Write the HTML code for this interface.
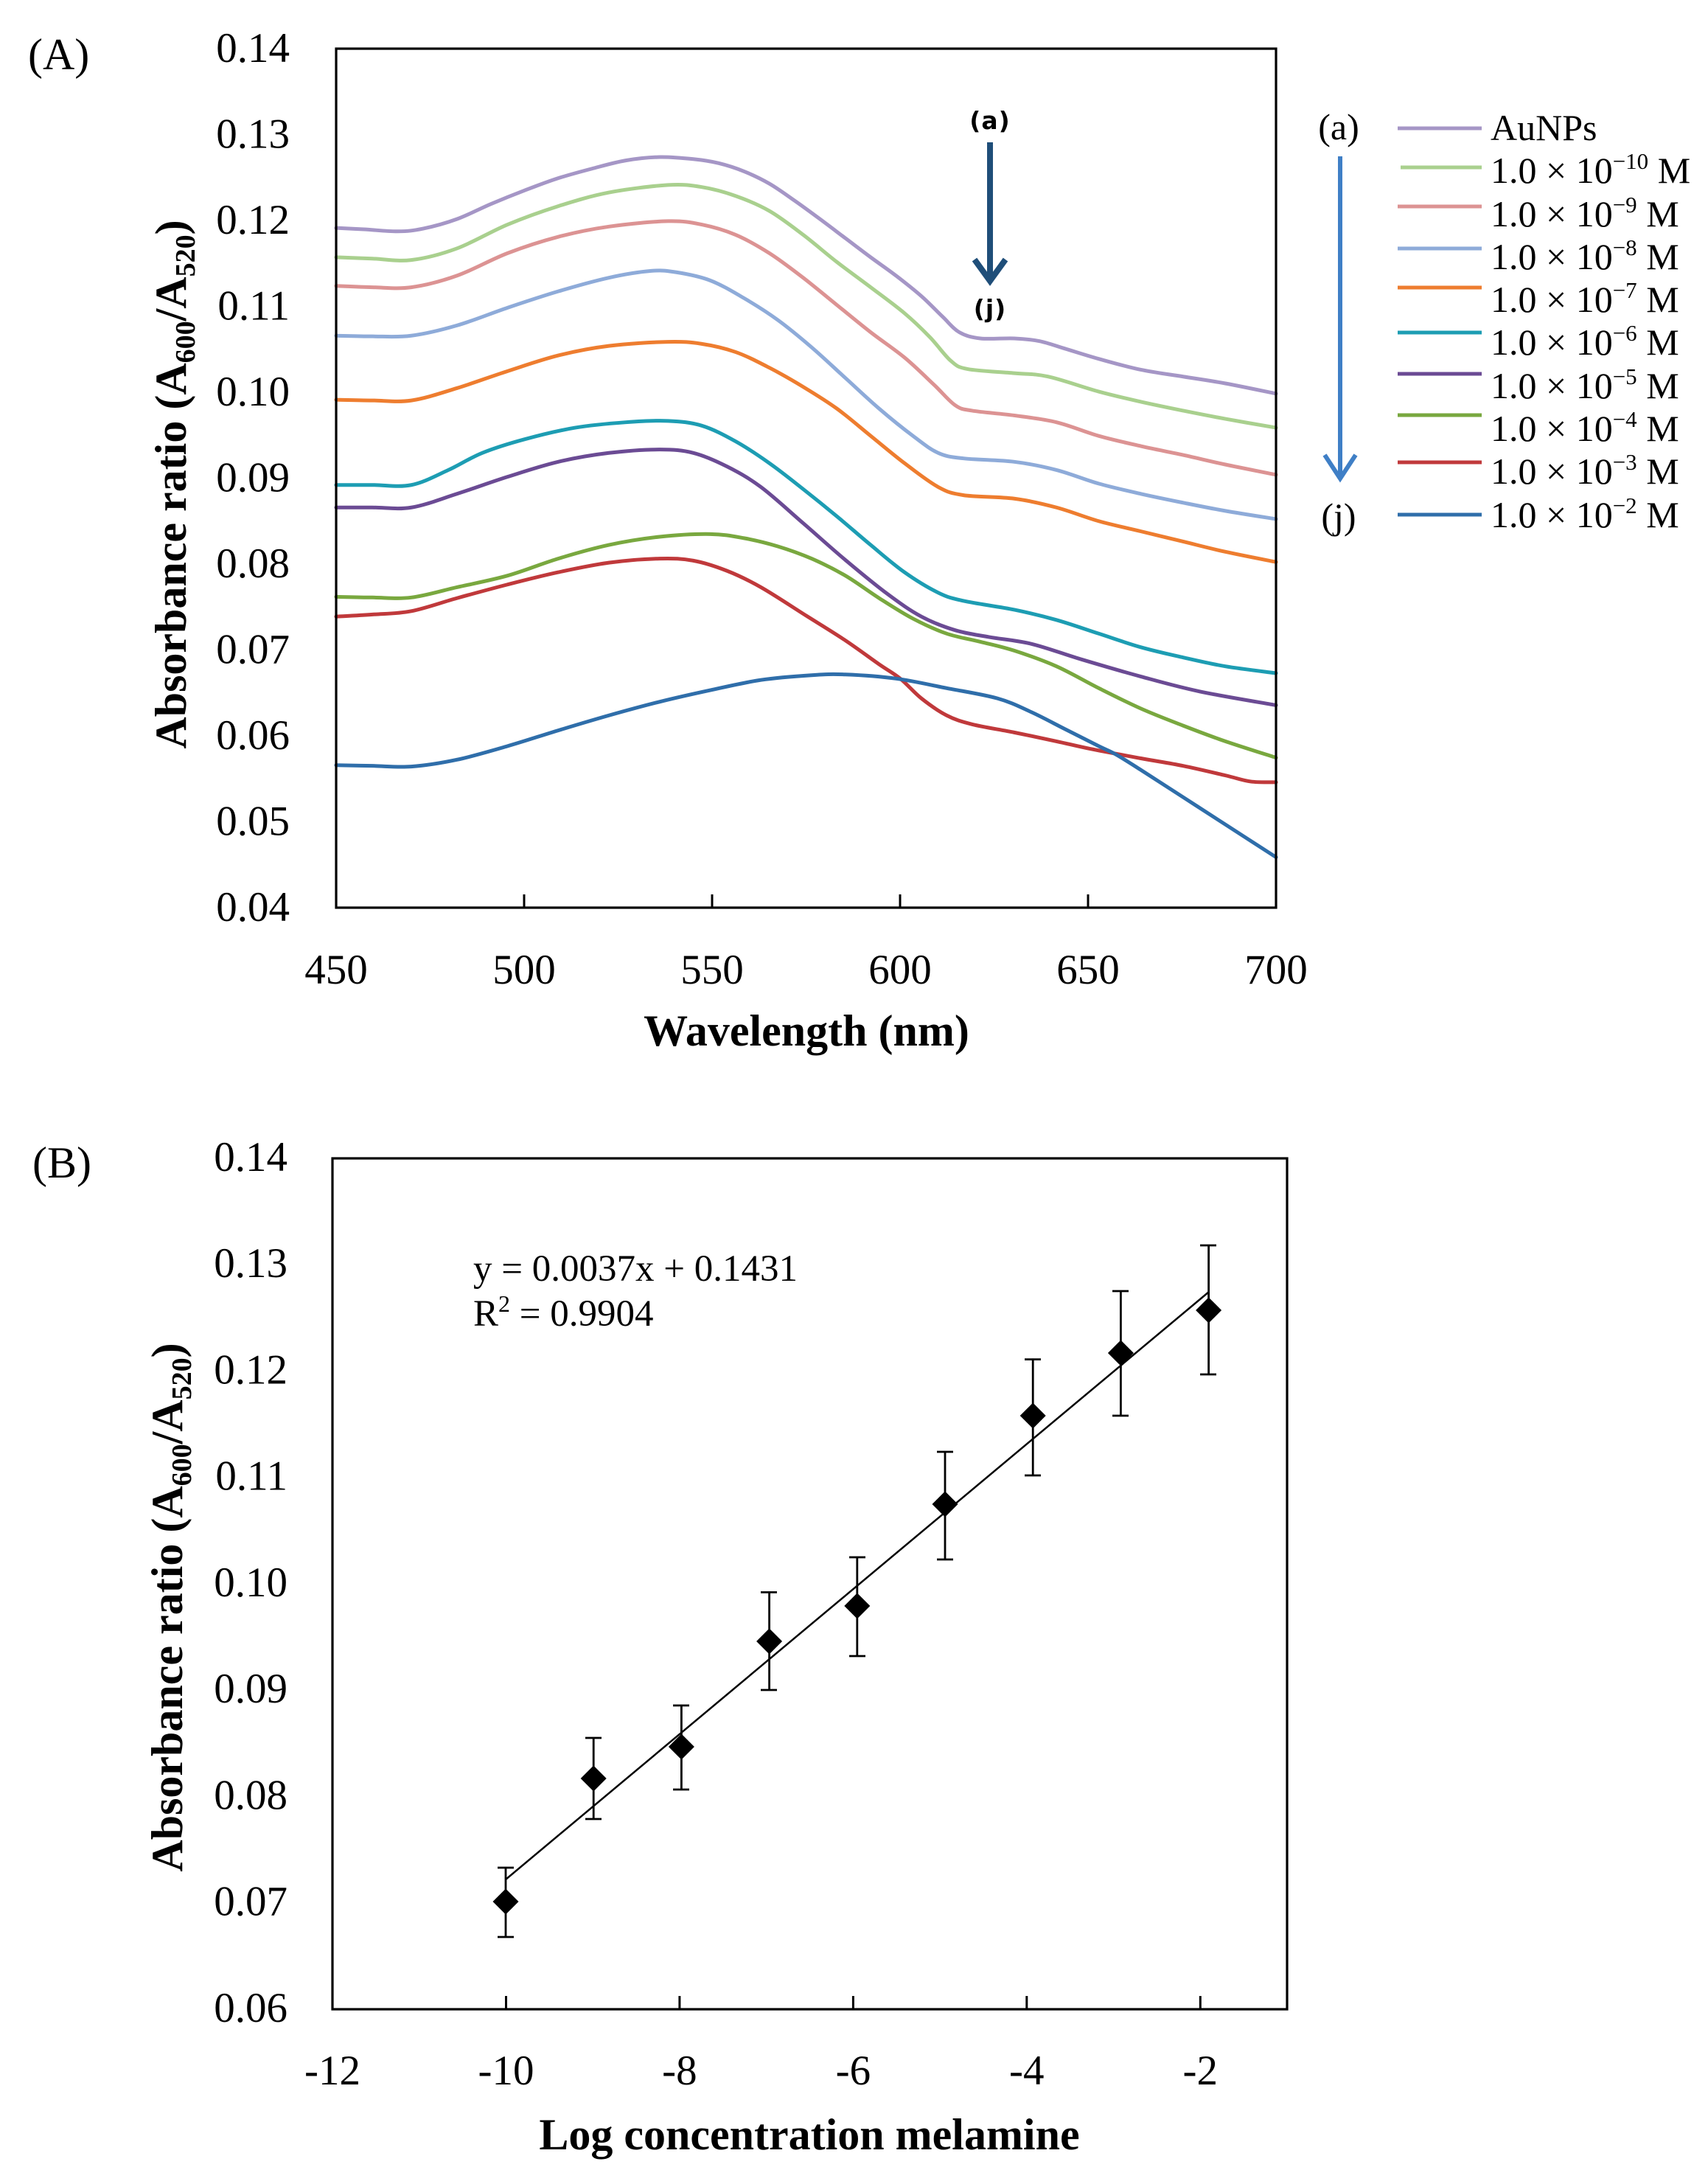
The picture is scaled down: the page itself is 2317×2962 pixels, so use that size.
<!DOCTYPE html>
<html>
<head>
<meta charset="utf-8">
<style>
  html,body{margin:0;padding:0;background:#fff;}
  svg{display:block;}
  text{font-family:"Liberation Serif","DejaVu Serif",serif;fill:#000;}
  .curves polyline,.curves path{fill:none;stroke-width:5;stroke-linejoin:round;stroke-linecap:round;vector-effect:non-scaling-stroke;}
  .tk{font-size:57px;}
  .ttl{font-size:60px;font-weight:bold;}
  .lg{font-size:50px;}
</style>
</head>
<body>
<svg id="chart" width="2317" height="2962" viewBox="0 0 2317 2962" xmlns="http://www.w3.org/2000/svg">
  <rect x="0" y="0" width="2317" height="2962" fill="#fff"/>

  <!-- ================= PANEL A ================= -->
  <text x="38" y="94" style="font-size:60px">(A)</text>

  <!-- curves -->
  <g class="curves" transform="translate(1.22,-0.57) scale(1.14555,0.9246)">
    <polyline class="c" stroke="#a596c6" points="397,335 430,337 470,340 500,336 540,322 580,300 620,280 660,262 700,248 740,236 780,231 820,234 850,240 880,252 910,270 940,295 970,322 1000,350 1030,378 1060,405 1090,435 1115,465 1135,488 1160,497 1200,497 1230,501 1260,512 1300,527 1350,543 1400,553 1450,563 1510,578"/>
    <polyline class="c" stroke="#a9d08e" points="397,378 440,380 486,382 540,365 600,330 660,303 720,283 790,272 830,275 870,288 910,310 950,345 990,385 1030,422 1070,460 1100,495 1125,530 1145,542 1200,548 1240,553 1300,575 1350,590 1400,603 1450,615 1510,628"/>
    <polyline class="c" stroke="#dc9393" points="397,420 440,422 486,422 540,405 600,372 660,348 720,333 790,325 830,330 870,345 910,372 950,408 990,448 1030,488 1070,525 1105,565 1130,595 1150,603 1200,610 1250,620 1300,640 1350,655 1400,668 1450,682 1510,697"/>
    <polyline class="c" stroke="#8eabd9" points="397,493 440,494 486,493 540,478 600,452 660,428 720,408 770,398 800,400 840,412 880,438 920,470 960,510 1000,555 1040,600 1080,640 1110,665 1140,673 1200,678 1250,690 1300,710 1350,725 1400,738 1450,750 1510,762"/>
    <polyline class="c" stroke="#ee7d2f" points="397,587 440,588 486,588 540,570 600,545 660,522 720,508 790,502 830,505 870,517 910,540 950,568 990,600 1030,640 1070,680 1110,715 1140,727 1200,732 1250,745 1300,765 1350,780 1400,795 1450,810 1510,825"/>
    <polyline class="c" stroke="#1d9db3" points="397,712 440,712 486,712 530,690 570,665 620,645 680,628 740,620 790,618 830,625 870,648 910,680 950,718 990,758 1030,800 1070,840 1110,870 1140,882 1200,895 1250,910 1300,930 1350,950 1400,965 1450,978 1510,988"/>
    <polyline class="c" stroke="#6b4b94" points="397,745 440,745 486,745 540,725 600,700 660,678 720,665 780,660 820,665 860,685 900,715 950,768 1000,822 1050,872 1090,905 1130,925 1170,935 1220,945 1280,968 1350,993 1420,1015 1510,1035"/>
    <polyline class="c" stroke="#79a83f" points="397,876 440,877 486,877 540,862 600,845 660,820 720,800 780,788 840,784 880,790 920,802 960,820 1000,845 1040,878 1080,908 1120,930 1160,942 1200,955 1250,978 1300,1010 1350,1040 1400,1065 1450,1088 1510,1112"/>
    <polyline class="c" stroke="#c0393b" points="397,905 440,902 486,897 540,878 600,858 660,840 720,826 780,820 820,823 860,838 900,862 954,904 1000,940 1040,975 1065,996 1090,1025 1120,1050 1150,1063 1200,1075 1250,1088 1290,1099 1350,1113 1400,1124 1450,1138 1480,1147 1510,1148"/>
    <polyline class="c" stroke="#2f6eaa" points="397,1123 440,1124 486,1125 540,1115 600,1095 660,1072 720,1050 780,1030 840,1013 900,998 960,991 1000,990 1060,996 1120,1010 1180,1025 1220,1045 1260,1070 1300,1095 1320,1107 1350,1130 1400,1170 1450,1210 1510,1258"/>
  </g>

  <!-- frame A -->
  <rect x="456" y="66" width="1275" height="1165" fill="none" stroke="#000" stroke-width="3.2"/>
  <!-- x ticks A -->
  <g stroke="#000" stroke-width="3">
    <line x1="711" y1="1231" x2="711" y2="1213"/>
    <line x1="966" y1="1231" x2="966" y2="1213"/>
    <line x1="1221" y1="1231" x2="1221" y2="1213"/>
    <line x1="1476" y1="1231" x2="1476" y2="1213"/>
  </g>

  <!-- y tick labels A -->
  <g class="tk" text-anchor="end">
    <text x="393" y="84">0.14</text>
    <text x="393" y="200.5">0.13</text>
    <text x="393" y="317">0.12</text>
    <text x="393" y="433.5">0.11</text>
    <text x="393" y="550">0.10</text>
    <text x="393" y="666.5">0.09</text>
    <text x="393" y="783">0.08</text>
    <text x="393" y="899.5">0.07</text>
    <text x="393" y="1016">0.06</text>
    <text x="393" y="1132.5">0.05</text>
    <text x="393" y="1249">0.04</text>
  </g>
  <!-- x tick labels A -->
  <g class="tk" text-anchor="middle">
    <text x="456" y="1334">450</text>
    <text x="711" y="1334">500</text>
    <text x="966" y="1334">550</text>
    <text x="1221" y="1334">600</text>
    <text x="1476" y="1334">650</text>
    <text x="1731" y="1334">700</text>
  </g>
  <text class="ttl" x="1094" y="1418" text-anchor="middle">Wavelength (nm)</text>
  <text class="ttl" transform="translate(252,657) rotate(-90)" text-anchor="middle">Absorbance ratio (A<tspan font-size="38" dy="12">600</tspan><tspan dy="-12">/A</tspan><tspan font-size="38" dy="12">520</tspan><tspan dy="-12">)</tspan></text>

  <!-- in-plot arrow -->
  <text x="1343" y="175" text-anchor="middle" style="font-family:'DejaVu Sans','Liberation Sans',sans-serif;font-weight:bold;font-size:33px;letter-spacing:1px">(a)</text>
  <line x1="1343" y1="193" x2="1343" y2="378" stroke="#1f4e79" stroke-width="8"/>
  <polyline points="1322,352 1343,381 1364,352" fill="none" stroke="#1f4e79" stroke-width="8"/>
  <text x="1343" y="430" text-anchor="middle" style="font-family:'DejaVu Sans','Liberation Sans',sans-serif;font-weight:bold;font-size:33px;letter-spacing:1px">(j)</text>

  <!-- legend -->
  <text class="lg" x="1816" y="189" text-anchor="middle">(a)</text>
  <line x1="1818" y1="212" x2="1818" y2="646" stroke="#3f7fc6" stroke-width="6"/>
  <polyline points="1797,617 1818,649 1839,617" fill="none" stroke="#3f7fc6" stroke-width="6"/>
  <text class="lg" x="1816" y="717" text-anchor="middle">(j)</text>

  <g stroke-width="5">
    <line x1="1896" y1="174" x2="2010" y2="174" stroke="#a596c6"/>
    <line x1="1900" y1="227" x2="2010" y2="227" stroke="#a9d08e"/>
    <line x1="1896" y1="280" x2="2010" y2="280" stroke="#dc9393"/>
    <line x1="1896" y1="337" x2="2010" y2="337" stroke="#8eabd9"/>
    <line x1="1896" y1="390" x2="2010" y2="390" stroke="#ee7d2f"/>
    <line x1="1896" y1="451" x2="2010" y2="451" stroke="#1d9db3"/>
    <line x1="1896" y1="507" x2="2010" y2="507" stroke="#6b4b94"/>
    <line x1="1896" y1="563" x2="2010" y2="563" stroke="#79a83f"/>
    <line x1="1896" y1="627" x2="2010" y2="627" stroke="#c0393b"/>
    <line x1="1896" y1="698" x2="2010" y2="698" stroke="#2f6eaa"/>
  </g>
  <g class="lg">
    <text x="2022" y="190">AuNPs</text>
    <text x="2022" y="248">1.0 × 10<tspan font-size="31" dy="-19">−10</tspan><tspan dy="19"> M</tspan></text>
    <text x="2022" y="307">1.0 × 10<tspan font-size="31" dy="-19">−9</tspan><tspan dy="19"> M</tspan></text>
    <text x="2022" y="365">1.0 × 10<tspan font-size="31" dy="-19">−8</tspan><tspan dy="19"> M</tspan></text>
    <text x="2022" y="423">1.0 × 10<tspan font-size="31" dy="-19">−7</tspan><tspan dy="19"> M</tspan></text>
    <text x="2022" y="481">1.0 × 10<tspan font-size="31" dy="-19">−6</tspan><tspan dy="19"> M</tspan></text>
    <text x="2022" y="540">1.0 × 10<tspan font-size="31" dy="-19">−5</tspan><tspan dy="19"> M</tspan></text>
    <text x="2022" y="598">1.0 × 10<tspan font-size="31" dy="-19">−4</tspan><tspan dy="19"> M</tspan></text>
    <text x="2022" y="656">1.0 × 10<tspan font-size="31" dy="-19">−3</tspan><tspan dy="19"> M</tspan></text>
    <text x="2022" y="715">1.0 × 10<tspan font-size="31" dy="-19">−2</tspan><tspan dy="19"> M</tspan></text>
  </g>

  <!-- ================= PANEL B ================= -->
  <text x="44" y="1597" style="font-size:60px">(B)</text>

  <!-- frame B -->
  <rect x="451" y="1571" width="1295" height="1154" fill="none" stroke="#000" stroke-width="3.2"/>
  <g stroke="#000" stroke-width="3">
    <line x1="686.5" y1="2725" x2="686.5" y2="2707"/>
    <line x1="921.9" y1="2725" x2="921.9" y2="2707"/>
    <line x1="1157.4" y1="2725" x2="1157.4" y2="2707"/>
    <line x1="1392.8" y1="2725" x2="1392.8" y2="2707"/>
    <line x1="1628.3" y1="2725" x2="1628.3" y2="2707"/>
  </g>

  <!-- trend line -->
  <line x1="686" y1="2549" x2="1640" y2="1752" stroke="#000" stroke-width="2.5"/>

  <!-- error bars -->
  <g stroke="#000" stroke-width="2.8" fill="none">
    <path d="M686,2533 V2627 M675,2533 H697 M675,2627 H697"/>
    <path d="M805.2,2357 V2467 M794,2357 H816 M794,2467 H816"/>
    <path d="M924.4,2313 V2427 M913,2313 H935 M913,2427 H935"/>
    <path d="M1043.6,2159.5 V2292 M1032,2159.5 H1054 M1032,2292 H1054"/>
    <path d="M1162.8,2112 V2246 M1152,2112 H1174 M1152,2246 H1174"/>
    <path d="M1282,1969 V2115 M1271,1969 H1293 M1271,2115 H1293"/>
    <path d="M1401.2,1843.6 V2001 M1390,1843.6 H1412 M1390,2001 H1412"/>
    <path d="M1520.4,1751 V1920 M1509,1751 H1531 M1509,1920 H1531"/>
    <path d="M1639.6,1689 V1864 M1628,1689 H1650 M1628,1864 H1650"/>
  </g>
  <!-- diamonds -->
  <g fill="#000">
    <polygon points="686,2561.5 703.5,2579 686,2596.5 668.5,2579"/>
    <polygon points="805.2,2394.5 822.7,2412 805.2,2429.5 787.7,2412"/>
    <polygon points="924.4,2351.5 941.9,2369 924.4,2386.5 906.9,2369"/>
    <polygon points="1043.6,2208.5 1061.1,2226 1043.6,2243.5 1026.1,2226"/>
    <polygon points="1162.8,2160.5 1180.3,2178 1162.8,2195.5 1145.3,2178"/>
    <polygon points="1282,2022.5 1299.5,2040 1282,2057.5 1264.5,2040"/>
    <polygon points="1401.2,1902.5 1418.7,1920 1401.2,1937.5 1383.7,1920"/>
    <polygon points="1520.4,1817.5 1537.9,1835 1520.4,1852.5 1502.9,1835"/>
    <polygon points="1639.6,1759.5 1657.1,1777 1639.6,1794.5 1622.1,1777"/>
  </g>

  <!-- equation -->
  <text x="642" y="1737" style="font-size:51px">y = 0.0037x + 0.1431</text>
  <text x="642" y="1798" style="font-size:51px">R<tspan font-size="32" dy="-19">2</tspan><tspan dy="19"> = 0.9904</tspan></text>

  <!-- y tick labels B -->
  <g class="tk" text-anchor="end">
    <text x="390" y="1588">0.14</text>
    <text x="390" y="1732">0.13</text>
    <text x="390" y="1876.5">0.12</text>
    <text x="390" y="2020.7">0.11</text>
    <text x="390" y="2165">0.10</text>
    <text x="390" y="2309.2">0.09</text>
    <text x="390" y="2453.5">0.08</text>
    <text x="390" y="2597.7">0.07</text>
    <text x="390" y="2742">0.06</text>
  </g>
  <!-- x tick labels B -->
  <g class="tk" text-anchor="middle">
    <text x="451" y="2827">-12</text>
    <text x="686.5" y="2827">-10</text>
    <text x="921.9" y="2827">-8</text>
    <text x="1157.4" y="2827">-6</text>
    <text x="1392.8" y="2827">-4</text>
    <text x="1628.3" y="2827">-2</text>
  </g>
  <text class="ttl" x="1098" y="2915" text-anchor="middle">Log concentration melamine</text>
  <text class="ttl" transform="translate(247,2180) rotate(-90)" text-anchor="middle">Absorbance ratio (A<tspan font-size="38" dy="12">600</tspan><tspan dy="-12">/A</tspan><tspan font-size="38" dy="12">520</tspan><tspan dy="-12">)</tspan></text>
</svg>
<script>
(function(){
  var NS="http://www.w3.org/2000/svg";
  var pls=document.querySelectorAll("polyline.c");
  for(var k=0;k<pls.length;k++){
    var pl=pls[k];
    var pts=pl.getAttribute("points").trim().split(/\s+/).map(function(p){return p.split(",").map(Number);});
    var d="M"+pts[0][0]+","+pts[0][1];
    for(var i=0;i<pts.length-1;i++){
      var p0=pts[i-1]||pts[i],p1=pts[i],p2=pts[i+1],p3=pts[i+2]||pts[i+1];
      var c1x=p1[0]+(p2[0]-p0[0])/6,c1y=p1[1]+(p2[1]-p0[1])/6;
      var c2x=p2[0]-(p3[0]-p1[0])/6,c2y=p2[1]-(p3[1]-p1[1])/6;
      d+=" C"+c1x.toFixed(2)+","+c1y.toFixed(2)+" "+c2x.toFixed(2)+","+c2y.toFixed(2)+" "+p2[0]+","+p2[1];
    }
    var path=document.createElementNS(NS,"path");
    path.setAttribute("d",d);
    path.setAttribute("stroke",pl.getAttribute("stroke"));
    pl.parentNode.replaceChild(path,pl);
  }
})();
</script>
</body>
</html>
